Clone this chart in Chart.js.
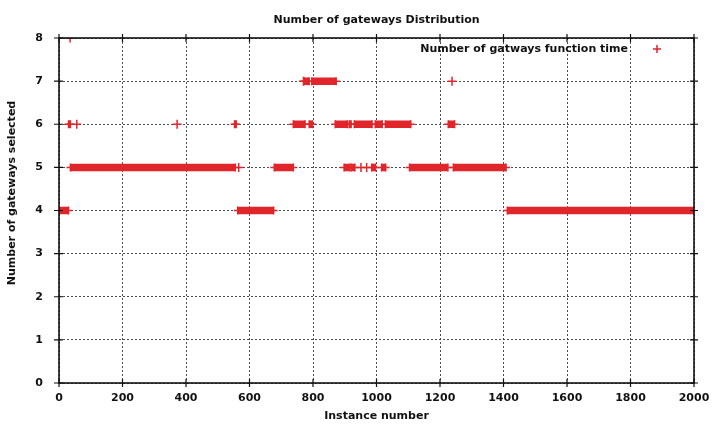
<!DOCTYPE html>
<html>
<head>
<meta charset="utf-8">
<script src="https://cdn.jsdelivr.net/npm/chart.js@4.4.1/dist/chart.umd.min.js"></script>
<style>
  html, body { margin: 0; padding: 0; background: #ffffff; }
  #wrap { width: 715px; height: 427px; }
</style>
</head>
<body>
<div id="wrap"><canvas id="c" width="715" height="427"></canvas></div>
<script>
// Labels
const chartTitle = 'Number of gateways Distribution';
const seriesLabel = 'Number of gatways function time';
const xTitle = 'Instance number';
const yTitle = 'Number of gateways selected';

// Tick labels
const xTicks = [0, 200, 400, 600, 800, 1000, 1200, 1400, 1600, 1800, 2000];
const yTicks = [0, 1, 2, 3, 4, 5, 6, 7, 8];

// Consecutive instances holding the same number of gateways (first, last, level)
const runStart = [0, 563, 1412,
                  36, 678, 898, 920, 985, 1016, 1104, 1242,
                  30, 553, 738, 788, 870, 914, 930, 996, 1028, 1226,
                  773, 796];
const runEnd   = [30, 676, 2000,
                  555, 738, 916, 932, 997, 1029, 1225, 1408,
                  36, 558, 775, 798, 908, 920, 986, 1018, 1108, 1246,
                  788, 873];
const runLevel = [4, 4, 4,
                  5, 5, 5, 5, 5, 5, 5, 5,
                  6, 6, 6, 6, 6, 6, 6, 6, 6, 6,
                  7, 7];

// Isolated instances
const singleX = [566, 951, 969, 56, 372, 770, 1238, 35];
const singleY = [5, 5, 5, 6, 6, 7, 7, 8];

const RED = '#e0252b';
const INK = '#111111';
const FONT = '"DejaVu Sans", sans-serif';

// Runs become a single line dataset, broken by null gaps
const runPoints = [];
runStart.forEach((s, i) => {
  runPoints.push({ x: s, y: runLevel[i] });
  runPoints.push({ x: runEnd[i], y: runLevel[i] });
  runPoints.push({ x: runEnd[i], y: null });
});
const singlePoints = singleX.map((x, i) => ({ x: x, y: singleY[i] }));

// Frame, mirrored ticks, titles and legend entry
const decorations = {
  id: 'decorations',
  afterDatasetsDraw(chart) {
    const { ctx, chartArea: a, scales } = chart;
    ctx.save();
    ctx.strokeStyle = INK;
    ctx.lineWidth = 1.6;
    ctx.strokeRect(a.left, a.top, a.right - a.left, a.bottom - a.top);
    ctx.lineWidth = 1.2;
    ctx.beginPath();
    xTicks.forEach(v => {
      const px = scales.x.getPixelForValue(v);
      ctx.moveTo(px, a.bottom - 4); ctx.lineTo(px, a.bottom + 4);
      ctx.moveTo(px, a.top - 4); ctx.lineTo(px, a.top + 4);
    });
    yTicks.forEach(v => {
      const py = scales.y.getPixelForValue(v);
      ctx.moveTo(a.left - 5, py); ctx.lineTo(a.left + 4, py);
      ctx.moveTo(a.right - 4, py); ctx.lineTo(a.right + 4, py);
    });
    ctx.stroke();
    ctx.restore();
  },
  afterDraw(chart) {
    const { ctx, chartArea: a } = chart;
    ctx.save();
    ctx.fillStyle = INK;
    ctx.textBaseline = 'middle';
    // chart title
    ctx.font = 'bold 11px ' + FONT;
    ctx.textAlign = 'center';
    ctx.fillText(chartTitle, (a.left + a.right) / 2, 20);
    // legend entry, text then marker
    ctx.textAlign = 'right';
    ctx.fillText(seriesLabel, a.right - 66, a.top + 11);
    ctx.strokeStyle = RED;
    ctx.lineWidth = 1.5;
    const mx = a.right - 37, my = a.top + 11;
    ctx.beginPath();
    ctx.moveTo(mx - 4, my); ctx.lineTo(mx + 4, my);
    ctx.moveTo(mx, my - 4); ctx.lineTo(mx, my + 4);
    ctx.stroke();
    // y axis title
    ctx.font = 'bold 11px ' + FONT;
    ctx.textAlign = 'center';
    ctx.translate(12, 193);
    ctx.rotate(-Math.PI / 2);
    ctx.fillText(yTitle, 0, 0);
    ctx.restore();
  }
};

const tickFont = { family: FONT, size: 11, weight: 'bold' };

new Chart(document.getElementById('c'), {
  type: 'scatter',
  data: {
    datasets: [
      {
        label: seriesLabel,
        data: runPoints,
        showLine: true,
        spanGaps: false,
        borderColor: RED,
        borderWidth: 7.5,
        borderCapStyle: 'butt',
        pointStyle: 'cross',
        pointRadius: 4,
        pointBorderWidth: 1.5,
        pointBorderColor: RED,
        pointBackgroundColor: RED
      },
      {
        label: seriesLabel,
        data: singlePoints,
        showLine: false,
        pointStyle: 'cross',
        pointRadius: 4.5,
        pointBorderWidth: 1.5,
        pointBorderColor: RED,
        pointBackgroundColor: RED
      }
    ]
  },
  options: {
    responsive: false,
    animation: false,
    events: [],
    layout: { padding: { top: 38, right: 21, left: 0, bottom: 0 } },
    plugins: {
      legend: { display: false },
      title: { display: false },
      tooltip: { enabled: false }
    },
    scales: {
      x: {
        type: 'linear',
        min: 0,
        max: 2000,
        afterFit(scale) { scale.height = 44; scale.paddingLeft = 0; scale.paddingRight = 0; },
        afterBuildTicks(scale) { scale.ticks = xTicks.map(v => ({ value: v })); },
        ticks: { color: INK, font: tickFont, padding: 9, maxRotation: 0, callback: v => String(v) },
        grid: { color: 'rgba(60,60,60,0.9)', lineWidth: 1, drawTicks: false },
        border: { display: false, dash: [2, 2] },
        title: { display: true, text: xTitle, color: INK, font: tickFont, padding: { top: 0, bottom: 4 } }
      },
      y: {
        type: 'linear',
        min: 0,
        max: 8,
        afterFit(scale) { scale.width = 59; scale.paddingTop = 0; scale.paddingBottom = 0; },
        afterBuildTicks(scale) { scale.ticks = yTicks.map(v => ({ value: v })); },
        ticks: { color: INK, font: tickFont, padding: 16, callback: v => String(v) },
        grid: { color: 'rgba(60,60,60,0.9)', lineWidth: 1, drawTicks: false },
        border: { display: false, dash: [2, 2] }
      }
    }
  },
  plugins: [decorations]
});
</script>
</body>
</html>
